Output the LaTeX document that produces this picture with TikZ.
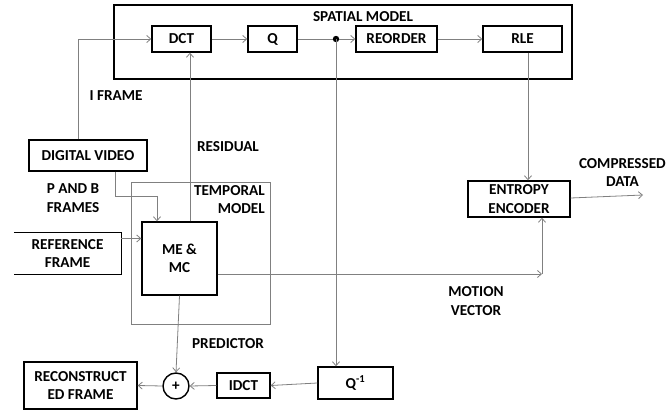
\documentclass[tikz,border=0pt]{standalone}
\usepackage{fontspec}
\setmainfont{Carlito}
\usetikzlibrary{arrows.meta}

\begin{document}
\begin{tikzpicture}[x=1pt, y=-1pt,
    font=\bfseries\fontsize{15.2}{18.5}\selectfont,
    box/.style={draw, line width=1.4pt, inner sep=0pt, align=center},
    conn/.style={draw=gray, line width=0.8pt, -{Straight Barb[length=4pt,width=7pt]}},
    line/.style={draw=gray, line width=0.8pt},
    lbl/.style={align=center, inner sep=0pt}]
    \useasboundingbox (0,0) rectangle (668,411);

    % spatial model
    \draw[line width=1.4pt] (114,5) rectangle (572,79);
    \node[lbl] (spatiallbl) at (363,17) {SPATIAL MODEL};
    \node[box, minimum width=59pt, minimum height=26pt] (dct) at (181.5,39) {DCT};
    \node[box, minimum width=49pt, minimum height=26pt] (q) at (272.5,39) {Q};
    \coordinate (split) at (336,39);
    \node[box, minimum width=81pt, minimum height=26pt] (reorder) at (396.5,39) {REORDER};
    \node[box, minimum width=79pt, minimum height=26pt] (rle) at (522.5,39) {RLE};

    % temporal model
    \draw[gray, line width=0.8pt] (131,182) rectangle (270,324);
    \node[lbl, align=right, anchor=north east] (temporallbl) at (265,185) {TEMPORAL\\MODEL};
    \node[box, minimum width=75pt, minimum height=73pt] (memc) at (179.5,258.5) {ME \&\\MC};

    % inputs
    \node[box, minimum width=118pt, minimum height=31pt] (video) at (88,155.5) {DIGITAL VIDEO};
    \node[lbl, minimum width=107pt, minimum height=41pt] (ref) at (67.5,253.5) {REFERENCE\\FRAME};
    \draw[line width=1.4pt] (ref.north west) -- (ref.north east) -- (ref.south east) -- (ref.south west);

    % outputs
    \node[box, minimum width=102pt, minimum height=36pt] (entropy) at (519,199) {ENTROPY\\ENCODER};
    \node[box, minimum width=75pt, minimum height=32pt] (qinv) at (355.5,383) {Q\textsuperscript{-1}};
    \node[box, minimum width=53pt, minimum height=25pt] (idct) at (243.5,385.5) {IDCT};
    \node[draw, circle, line width=1.4pt, minimum size=26pt, inner sep=0pt] (plus) at (176,386) {+};
    \node[box, minimum width=113pt, minimum height=47pt] (recon) at (80.5,385.5) {RECONSTRUCT\\ED FRAME};

    % labels
    \node[lbl] (iframe) at (116,96) {I FRAME};
    \node[lbl] (residual) at (228,147) {RESIDUAL};
    \node[lbl] (pb) at (73,198) {P AND B\\FRAMES};
    \node[lbl] (motion) at (476,301) {MOTION\\VECTOR};
    \node[lbl] (predictor) at (228,344) {PREDICTOR};
    \node[lbl, anchor=north east] (compressed) at (666,158) {COMPRESSED\\DATA};

    \coordinate (pbturn) at (157,196);
    \coordinate (mvturn) at (542,274);
    \coordinate (out) at (643,195);

    % connectors
    \draw[conn] ([xshift=-10pt]video.north) |- (dct.west);
    \draw[line] ([xshift=27pt]video.south) |- (pbturn);
    \draw[conn] (pbturn) -- (pbturn |- memc.north);
    \draw[conn] ([yshift=15pt]ref.east) -- ([yshift=15pt]ref.east -| memc.west);
    \draw[conn] ([xshift=10.5pt]memc.north) -- ([xshift=10.5pt]memc.north |- dct.south);
    \draw[conn] (dct) -- (q);
    \draw[line] (q.east) -- (split);
    \draw[conn] (split) -- (reorder.west);
    \draw[conn] (reorder) -- (rle);
    \fill (split) circle (3.2pt);
    \draw[conn] (split) -- (split |- qinv.north);
    \draw[conn] ([xshift=5.5pt]rle.south) -- ([xshift=5.5pt]rle.south |- entropy.north);
    \draw[conn] ([yshift=-15.5pt]memc.east) -- (mvturn);
    \draw[conn] (mvturn) -- (mvturn |- entropy.south);
    \draw[conn] ([yshift=1pt]entropy.east) -- (out);
    \draw[conn] (qinv.west) -- (idct.east);
    \draw[conn] (idct.west) -- (plus.east);
    \draw[conn] (memc.south) -- (plus.north);
    \draw[conn] (plus.west) -- (recon.east);
\end{tikzpicture}
\end{document}
